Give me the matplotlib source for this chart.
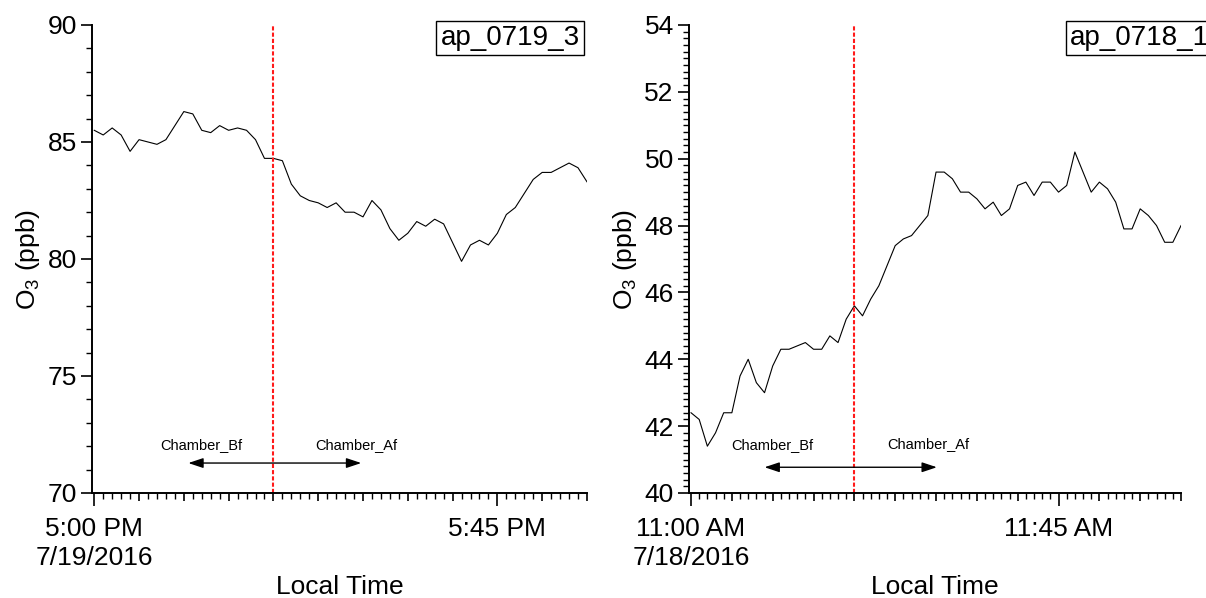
import numpy as np
import pandas as pd
import matplotlib
matplotlib.use("Agg")
import matplotlib.pyplot as plt
import matplotlib.dates as mdates
from matplotlib.ticker import FuncFormatter, MultipleLocator

plt.rcParams["font.family"] = ["Liberation Sans", "DejaVu Sans"]
plt.rcParams["mathtext.fontset"] = "custom"
plt.rcParams["mathtext.rm"] = "Liberation Sans"
plt.rcParams["mathtext.default"] = "rm"

# ozone, one reading per minute
o3_0719 = [85.5, 85.3, 85.6, 85.3, 84.6, 85.1, 85.0, 84.9, 85.1, 85.7,
           86.3, 86.2, 85.5, 85.4, 85.7, 85.5, 85.6, 85.5, 85.1, 84.3,
           84.3, 84.2, 83.2, 82.7, 82.5, 82.4, 82.2, 82.4, 82.0, 82.0,
           81.8, 82.5, 82.1, 81.3, 80.8, 81.1, 81.6, 81.4, 81.7, 81.5,
           80.7, 79.9, 80.6, 80.8, 80.6, 81.1, 81.9, 82.2, 82.8, 83.4,
           83.7, 83.7, 83.9, 84.1, 83.9, 83.3]
o3_0718 = [42.4, 42.2, 41.4, 41.8, 42.4, 42.4, 43.5, 44.0, 43.3, 43.0,
           43.8, 44.3, 44.3, 44.4, 44.5, 44.3, 44.3, 44.7, 44.5, 45.2,
           45.6, 45.3, 45.8, 46.2, 46.8, 47.4, 47.6, 47.7, 48.0, 48.3,
           49.6, 49.6, 49.4, 49.0, 49.0, 48.8, 48.5, 48.7, 48.3, 48.5,
           49.2, 49.3, 48.9, 49.3, 49.3, 49.0, 49.2, 50.2, 49.6, 49.0,
           49.3, 49.1, 48.7, 47.9, 47.9, 48.5, 48.3, 48.0, 47.5, 47.5,
           48.0]

start_0719 = "2016-07-19 17:00"
start_0718 = "2016-07-18 11:00"
end_0719 = "2016-07-19 17:55"
end_0718 = "2016-07-18 12:00"
switch_0719 = "2016-07-19 17:20"
switch_0718 = "2016-07-18 11:20"

times_0719 = pd.date_range(start_0719, periods=len(o3_0719), freq="1min")
times_0718 = pd.date_range(start_0718, periods=len(o3_0718), freq="1min")

# arrow / label placement (time, value)
ann_0719 = dict(arrow=("17:10:30", "17:29:48", 71.28), bf=("17:12", 72.06), af=("17:29:12", 72.06))
ann_0718 = dict(arrow=("11:09:00", "11:30:06", 40.77), bf=("11:09:54", 41.43), af=("11:29:06", 41.48))


def make_fmt(t0):
    t0 = pd.Timestamp(t0)

    def fmt(x, pos):
        d = mdates.num2date(x).replace(tzinfo=None)
        d = pd.Timestamp(d).round("1s")
        if d == t0:
            return d.strftime("%-I:%M %p") + "\n" + f"{d.month}/{d.day}/{d.year}"
        if d.minute == 45:
            return d.strftime("%-I:%M %p")
        return ""
    return fmt


def draw_panel(ax, times, vals, start, end, switch, ylim, ymaj, ymin, name, ann, box_x, box_ha):
    ax.plot(times, vals, color="black", lw=0.8)
    ax.axvline(pd.Timestamp(switch), color="#ff1a1a", lw=1.5, ls=(0, (2, 1)))

    day = start.split(" ")[0]
    t_a = pd.Timestamp(day + " " + ann["arrow"][0])
    t_b = pd.Timestamp(day + " " + ann["arrow"][1])
    ax.annotate("", xy=(t_b, ann["arrow"][2]), xytext=(t_a, ann["arrow"][2]),
                arrowprops=dict(arrowstyle="<|-|>,head_length=0.6,head_width=0.2",
                                color="black", lw=1, mutation_scale=15,
                                shrinkA=0, shrinkB=0))
    ax.text(pd.Timestamp(day + " " + ann["bf"][0]), ann["bf"][1], "Chamber_Bf",
            ha="center", va="center", fontsize=10.5)
    ax.text(pd.Timestamp(day + " " + ann["af"][0]), ann["af"][1], "Chamber_Af",
            ha="center", va="center", fontsize=10.5)

    ax.set_xlim(pd.Timestamp(start) - pd.Timedelta(seconds=15), pd.Timestamp(end))
    ax.set_ylim(*ylim)
    ax.yaxis.set_major_locator(MultipleLocator(ymaj))
    ax.yaxis.set_minor_locator(MultipleLocator(ymin))
    ax.xaxis.set_major_locator(mdates.MinuteLocator(byminute=range(0, 60, 5)))
    ax.xaxis.set_minor_locator(mdates.MinuteLocator())
    ax.xaxis.set_major_formatter(FuncFormatter(make_fmt(start)))

    for s in ["top", "right"]:
        ax.spines[s].set_visible(False)
    for s in ["left", "bottom"]:
        ax.spines[s].set_linewidth(1.4)

    ax.tick_params(axis="both", which="major", labelsize=19, width=1.2, direction="out")
    ax.tick_params(axis="both", which="minor", width=1.0, direction="out")
    ax.tick_params(axis="y", which="major", length=8, pad=3)
    ax.tick_params(axis="y", which="minor", length=4)
    ax.tick_params(axis="x", which="major", length=6, pad=11)
    ax.tick_params(axis="x", which="minor", length=4)
    for lab in ax.get_xticklabels():
        lab.set_linespacing(1.28)

    ax.set_xlabel("Local Time", fontsize=19, labelpad=4)
    ax.set_ylabel("O$_3$ (ppb)", fontsize=19, labelpad=4)

    ax.text(box_x, 1.0, name, transform=ax.transAxes, ha=box_ha, va="top",
            fontsize=20, clip_on=False,
            bbox=dict(boxstyle="square,pad=0.15", fc="white", ec="black", lw=1))

    fig.canvas.draw()
    for tk in ax.xaxis.get_major_ticks():
        if tk.label1.get_text():
            tk.tick1line.set_markersize(9)


fig = plt.figure(figsize=(12.06, 5.98), dpi=100)
ax1 = fig.add_axes([0.0763, 0.1756, 0.4104, 0.7826])
ax2 = fig.add_axes([0.5713, 0.1756, 0.4080, 0.7826])

draw_panel(ax1, times_0719, o3_0719, start_0719, end_0719, switch_0719,
           (70, 90), 5, 1, "ap_0719_3", ann_0719, 0.985, "right")
draw_panel(ax2, times_0718, o3_0718, start_0718, end_0718, switch_0718,
           (40, 54), 2, 0.2, "ap_0718_1", ann_0718, 0.775, "left")

fig.savefig("out.png", dpi=100)
